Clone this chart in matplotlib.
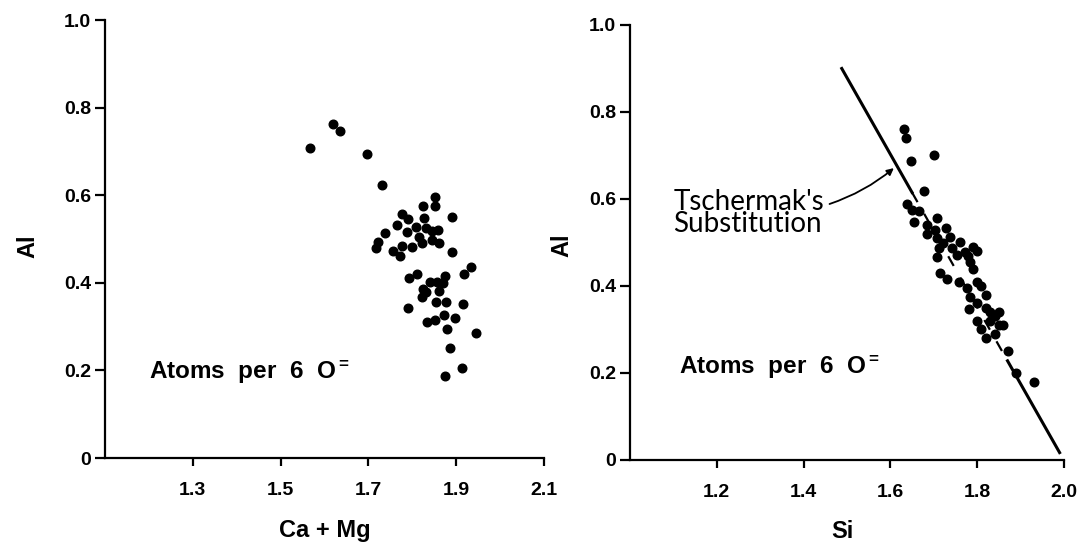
import matplotlib
matplotlib.use("Agg")
import matplotlib.pyplot as plt

# Left panel: Al vs Ca + Mg (atoms per 6 O)
camg = [1.567, 1.619, 1.635, 1.697, 1.731, 1.852, 1.824, 1.852, 1.890, 1.777,
        1.790, 1.827, 1.765, 1.738, 1.788, 1.808, 1.831, 1.845, 1.859, 1.815,
        1.845, 1.861, 1.822, 1.799, 1.777, 1.722, 1.717, 1.756, 1.772, 1.890,
        1.934, 1.918, 1.792, 1.811, 1.874, 1.840, 1.856, 1.870, 1.824, 1.822,
        1.831, 1.861, 1.790, 1.854, 1.877, 1.915, 1.833, 1.852, 1.872, 1.897,
        1.879, 1.945, 1.886, 1.913, 1.875]
al_left = [0.708, 0.763, 0.747, 0.694, 0.623, 0.596, 0.575, 0.575, 0.550, 0.557,
           0.546, 0.548, 0.532, 0.514, 0.516, 0.527, 0.525, 0.518, 0.521, 0.505,
           0.498, 0.491, 0.491, 0.482, 0.484, 0.493, 0.479, 0.473, 0.461, 0.470,
           0.436, 0.420, 0.411, 0.420, 0.416, 0.402, 0.402, 0.400, 0.386, 0.368,
           0.379, 0.381, 0.342, 0.356, 0.356, 0.352, 0.311, 0.315, 0.326, 0.320,
           0.295, 0.285, 0.251, 0.205, 0.187]

# Right panel: Al vs Si
si = [1.631, 1.635, 1.647, 1.700, 1.677, 1.638, 1.649, 1.665, 1.654, 1.707,
      1.684, 1.702, 1.728, 1.684, 1.707, 1.737, 1.760, 1.721, 1.712, 1.741,
      1.771, 1.707, 1.753, 1.783, 1.714, 1.730, 1.758, 1.776, 1.783, 1.781,
      1.79, 1.80, 1.78, 1.79, 1.80, 1.81, 1.82, 1.80, 1.82, 1.83,
      1.80, 1.81, 1.82, 1.83, 1.84, 1.85, 1.86, 1.84, 1.87, 1.89,
      1.93, 1.85]
al_right = [0.761, 0.740, 0.687, 0.701, 0.618, 0.589, 0.575, 0.572, 0.547, 0.556,
            0.540, 0.529, 0.533, 0.520, 0.510, 0.513, 0.501, 0.499, 0.487, 0.487,
            0.478, 0.467, 0.471, 0.455, 0.430, 0.416, 0.409, 0.395, 0.375, 0.347,
            0.49, 0.48, 0.47, 0.44, 0.41, 0.40, 0.38, 0.36, 0.35, 0.34,
            0.32, 0.30, 0.28, 0.32, 0.33, 0.31, 0.31, 0.29, 0.25, 0.20,
            0.18, 0.34]

# Tschermak's substitution line pieces (solid, dashed, solid)
line_si = [1.488, 1.65, 1.87, 1.99]
line_al = [0.900, 0.615, 0.228, 0.017]

yticks = [0, 0.2, 0.4, 0.6, 0.8, 1.0]
ytick_labels = ["0", "0.2", "0.4", "0.6", "0.8", "1.0"]
xticks_left = [1.3, 1.5, 1.7, 1.9, 2.1]
xticks_right = [1.2, 1.4, 1.6, 1.8, 2.0]

bold = dict(family="Liberation Sans", weight="bold")
plt.rcParams["mathtext.fontset"] = "custom"
plt.rcParams["mathtext.rm"] = "Liberation Sans:bold"
plt.rcParams["mathtext.default"] = "rm"

fig = plt.figure(figsize=(10.83, 5.48), dpi=100)
ax1 = fig.add_axes([0.0970, 0.1642, 0.4054, 0.7993])
ax2 = fig.add_axes([0.5817, 0.1606, 0.4007, 0.7938])


def style(ax, xlim, xticks):
    ax.set_xlim(*xlim)
    ax.set_ylim(0, 1.0)
    for s in ["top", "right"]:
        ax.spines[s].set_visible(False)
    for s in ["left", "bottom"]:
        ax.spines[s].set_linewidth(1.6)
    ax.set_xticks(xticks)
    ax.set_xticklabels([f"{t:.1f}" for t in xticks], fontsize=14, **bold)
    ax.set_yticks(yticks)
    ax.set_yticklabels(ytick_labels, fontsize=14, **bold)
    ax.tick_params(axis="y", direction="out", length=7, width=1.6, pad=3)
    ax.tick_params(axis="x", direction="out", length=6, width=1.6, pad=11)


style(ax1, (1.1, 2.1), xticks_left)
style(ax2, (1.0, 2.0), xticks_right)

ax1.plot(camg, al_left, "o", color="black", ms=6.2, clip_on=False)
ax2.plot(si, al_right, "o", color="black", ms=6.2, clip_on=False)

ax2.plot(line_si[:2], line_al[:2], "-", color="black", lw=2.2)
ax2.plot(line_si[1:3], line_al[1:3], "--", color="black", lw=1.6, dashes=(5, 6))
ax2.plot(line_si[2:], line_al[2:], "-", color="black", lw=2.2)

ax1.set_ylabel("Al", fontsize=17, **bold)
ax1.yaxis.set_label_coords(-0.15, 0.484)
ax1.set_xlabel("Ca + Mg", fontsize=17, **bold)
ax1.xaxis.set_label_coords(0.50, -0.14)

ax2.set_ylabel("Al", fontsize=17, **bold)
ax2.yaxis.set_label_coords(-0.13, 0.494)
ax2.set_xlabel("Si", fontsize=17, **bold)
ax2.xaxis.set_label_coords(0.49, -0.137)

note = "Atoms  per  6  O$^{=}$"
ax1.text(1.20, 0.196, note, fontsize=17.5, va="center", ha="left", **bold)
ax2.text(1.112, 0.214, note, fontsize=17.5, va="center", ha="left", **bold)

ax2.annotate("Tschermak's\nSubstitution", xy=(1.608, 0.671), xytext=(1.10, 0.568),
             fontsize=20, family="Lato", va="center", ha="left", linespacing=0.8,
             arrowprops=dict(arrowstyle="-|>", color="black", lw=1.3,
                             connectionstyle="arc3,rad=0.1", shrinkA=2, shrinkB=0,
                             mutation_scale=10, relpos=(1.0, 0.65)))

fig.savefig("out.png", dpi=100)
